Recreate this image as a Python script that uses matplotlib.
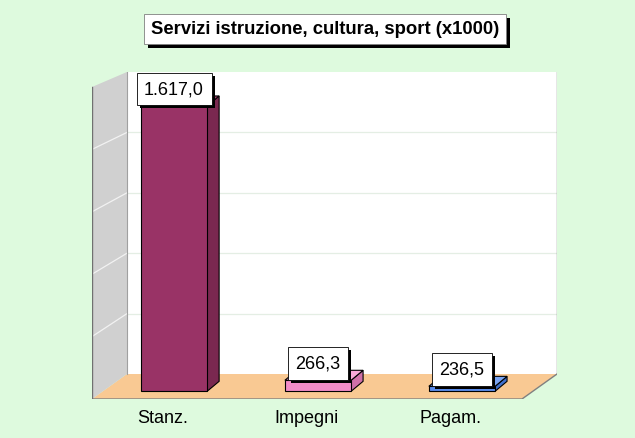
import matplotlib
matplotlib.use("Agg")
import matplotlib.pyplot as plt
from matplotlib.patches import Polygon, Rectangle
from matplotlib.transforms import IdentityTransform
import numpy as np

plt.rcParams['font.family'] = ['Liberation Sans', 'DejaVu Sans']

# ---- data ----
categories = ["Stanz.", "Impegni", "Pagam."]
values = [1617.0, 266.3, 236.5]
value_labels = ["1.617,0", "266,3", "236,5"]
title = "Servizi istruzione, cultura, sport (x1000)"
front_colors = ["#993366", "#F28CC8", "#5B8CEB"]
side_colors = ["#7A2850", "#D070A8", "#4070CC"]
top_colors = ["#A84070", "#F8A8D8", "#7AA4F2"]
baseline = 212.0

# ---- layout ----
W, H = 635, 439
bg = "#DEFADE"
fig = plt.figure(figsize=(W / 100, H / 100), dpi=100, facecolor=bg)
ax = fig.add_axes([92 / W, (H - 400) / H, 465 / W, 327 / H])
ax.set_facecolor("none")
ax.set_xlim(-0.57, 2.66)
ax.set_ylim(174, 1784)
ax.axis("off")

T = ax.transAxes
bx, by = 35 / 465, 25 / 327       # depth offset of the back wall (axes fraction)
ftop = (400 - 88) / 327           # left wall front top
# back wall
ax.add_patch(Polygon([(bx, by), (1, by), (1, 1), (bx, 1)], closed=True,
                     transform=T, facecolor="white", edgecolor="none", zorder=0))
ax.plot([1, 1], [by, 1], transform=T, color="#808080", lw=1, zorder=1)
# floor
ax.add_patch(Polygon([(0, 0), (1 - bx, 0), (1, by), (bx, by)], closed=True,
                     transform=T, facecolor="#F9C993", edgecolor="none", zorder=0.5))
ax.plot([0, 1 - bx, 1], [0, 0, by], transform=T, color="#808080", lw=1, zorder=1)
# left wall
ax.add_patch(Polygon([(0, 0), (bx, by), (bx, 1), (0, ftop)], closed=True,
                     transform=T, facecolor="#D0D0D0", edgecolor="none", zorder=0.5))
ax.plot([0, 0], [0, ftop], transform=T, color="#707070", lw=1, zorder=1)
ax.plot([bx, bx], [by, 1], transform=T, color="#A0A0A0", lw=0.8, zorder=1)
# gridlines
n = 5
for i in range(1, n):
    yb = by + (1 - by) * i / n
    yf = ftop * i / n
    ax.plot([bx, 1], [yb, yb], transform=T, color="#E4EEE4", lw=0.9, zorder=0.6)
    ax.plot([0, bx], [yf, yb], transform=T, color="#F2F2F2", lw=0.9, zorder=0.6)

# ---- bars ----
x = np.arange(len(categories))
w = 0.46
ddx, ddy = 0.083, 49.0
vals = np.array(values)
ax.bar(x, vals - baseline, bottom=baseline, width=w, color=front_colors,
       edgecolor="black", linewidth=0.8, zorder=3)
for xi, v, sc, tc in zip(x, vals, side_colors, top_colors):
    l, r = xi - w / 2, xi + w / 2
    ax.add_patch(Polygon([(r, baseline), (r + ddx, baseline + ddy), (r + ddx, v + ddy), (r, v)],
                         closed=True, facecolor=sc, edgecolor="black", lw=0.8, zorder=2.9))
    ax.add_patch(Polygon([(l, v), (r, v), (r + ddx, v + ddy), (l + ddx, v + ddy)],
                         closed=True, facecolor=tc, edgecolor="black", lw=0.8, zorder=2.9))

# ---- value labels ----
label_texts = []
for xi, v, lab in zip(x, vals, value_labels):
    t = ax.annotate(lab, (xi, v), xytext=(0, 6), textcoords="offset points",
                    ha="center", va="bottom", fontsize=13, color="black", zorder=5,
                    bbox=dict(boxstyle="square,pad=0.42", facecolor="white",
                              edgecolor="black", lw=0.6))
    label_texts.append(t)

# ---- category labels ----
for xi, c in zip(x, categories):
    ax.annotate(c, (xi - 0.08, 174), xytext=(0, -7), textcoords="offset points",
                ha="center", va="top", fontsize=13, color="black")

# ---- title ----
title_text = fig.text(325 / W, 1 - 30 / H, title,
                      ha="center", va="center", fontsize=13.3, fontweight="bold", color="black",
                      bbox=dict(boxstyle="square,pad=0.36", facecolor="white",
                                edgecolor="#808080", lw=0.6), zorder=5)

# ---- shadows (drawn as rectangles behind the boxes) ----
fig.canvas.draw()
renderer = fig.canvas.get_renderer()
for t in label_texts:
    bb = t.get_bbox_patch().get_window_extent(renderer)
    ax.add_patch(Rectangle((bb.x0 + 3, bb.y0 - 3), bb.width, bb.height,
                           transform=IdentityTransform(), facecolor="black",
                           edgecolor="none", zorder=4.9, clip_on=False))
bb = title_text.get_bbox_patch().get_window_extent(renderer)
fig.add_artist(Rectangle((bb.x0 + 4, bb.y0 - 4), bb.width, bb.height,
                         transform=IdentityTransform(), facecolor="black",
                         edgecolor="none", zorder=4.9))

fig.savefig("out.png", dpi=100, facecolor=bg)
